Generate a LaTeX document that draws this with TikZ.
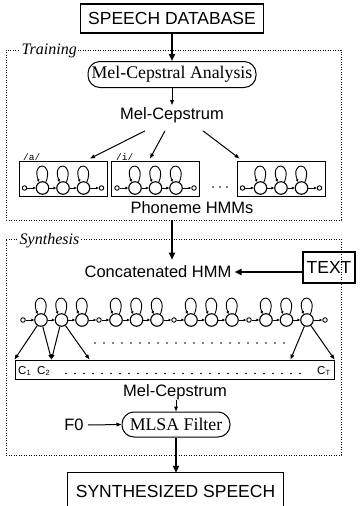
\documentclass[tikz,border=0pt]{standalone}
\usepackage{fontspec}
\setmainfont{Liberation Serif}
\setsansfont{Liberation Sans}
\setmonofont{Liberation Mono}
\usetikzlibrary{arrows.meta}
\newcommand\csub[1]{\raisebox{-1.8pt}{\fontsize{7.5}{8}\selectfont #1}}
\begin{document}
\begin{tikzpicture}[x=1pt,y=-1pt,
 lab/.style={font=\sffamily\fontsize{16.5}{18}\selectfont, inner sep=0pt},
 bigbox/.style={draw, line width=1.1pt, font=\sffamily\fontsize{17.5}{19}\selectfont, inner sep=0pt},
 pill/.style={draw, line width=1pt, rounded corners=12pt, font=\fontsize{17.8}{19}\selectfont, inner sep=0pt},
 frame/.style={draw, line width=0.8pt, dash pattern=on 0.8pt off 1.7pt, inner sep=0pt},
 framelab/.style={font=\itshape\fontsize{16}{18}\selectfont, fill=white, inner xsep=1.5pt, inner ysep=1pt, anchor=west},
 bigarrow/.style={line width=1.9pt, -{Triangle[length=7pt,width=6pt]}},
 smallarrow/.style={line width=1pt, -{Triangle[length=5pt,width=3.6pt]}},
 hstate/.style={circle, draw, line width=1.15pt, minimum size=12.5pt, inner sep=0pt},
 endst/.style={circle, draw, line width=0.9pt, minimum size=4.5pt, inner sep=0pt},
 tr/.style={line width=0.9pt, -{Triangle[length=2.8pt,width=2.4pt]}},
 hbox/.style={draw, line width=1pt, minimum width=88pt, minimum height=35pt, inner sep=0pt},
 phon/.style={font=\ttfamily\fontsize{9.5}{10}\selectfont, inner sep=0pt, anchor=south west},
 clab/.style={font=\sffamily\fontsize{11.5}{12}\selectfont, inner sep=0pt},
]
\useasboundingbox (0,0) rectangle (361,506);

% frames
\node[frame, minimum width=335pt, minimum height=170pt] (trainframe) at (173.5,135) {};
\node[frame, minimum width=335pt, minimum height=216pt] (synframe) at (173.5,347) {};
\node[framelab] (trainlab) at (20,51) {Training};
\node[framelab] (synlab) at (18,241) {Synthesis};

% top part
\node[bigbox, minimum width=183pt, minimum height=29pt] (sdb) at (172,18.5) {SPEECH DATABASE};
\node[pill, minimum width=168pt, minimum height=26pt] (mca) at (172,74.5) {Mel-Cepstral Analysis};
\draw[bigarrow] (sdb.south) -- (mca.north);
\node[lab] (mc1) at (172,115) {Mel-Cepstrum};
\draw[smallarrow] (mca.south) -- ([yshift=2pt]mc1.north -| mca.south);

% phoneme HMMs
\foreach \b/\cx in {1/63,2/155.5,3/281}{
  \node[hbox] (pb\b) at (\cx,178.5) {};
  \node[endst] (pb\b-e0) at ({\cx-38.5},188) {};
  \node[endst] (pb\b-e4) at ({\cx+38.5},188) {};
  \foreach \i in {1,2,3}{
    \node[hstate] (pb\b-s\i) at ({\cx+(\i-2)*20.5},188) {};
    \draw[tr] (pb\b-s\i.60) .. controls +(8,-21) and +(-8,-21) .. (pb\b-s\i.120);
  }
  \draw[tr] (pb\b-e0) -- (pb\b-s1);
  \draw[tr] (pb\b-s1) -- (pb\b-s2);
  \draw[tr] (pb\b-s2) -- (pb\b-s3);
  \draw[tr] (pb\b-s3) -- (pb\b-e4);
}
\node[phon] (pa) at (23,161) {/a/};
\node[phon] (pi) at (116,161) {/i/};
\foreach \x in {213,220,227} \fill (\x,187) circle[radius=0.8pt];
\draw[smallarrow] ([shift={(-27,8)}]mc1.south) -- ([shift={(27,-2)}]pb1.north);
\draw[smallarrow] ([shift={(-7,8)}]mc1.south) -- ([shift={(-5.5,-2)}]pb2.north);
\draw[smallarrow] ([shift={(31,8)}]mc1.south) -- ([shift={(3,-2)}]pb3.north west);
\node[lab] (phm) at (192,208) {Phoneme HMMs};

% synthesis
\node[lab] (concat) at (158,272) {Concatenated HMM};
\draw[bigarrow] (trainframe.south -| sdb.south) -- ([yshift=6pt]concat.north -| sdb.south);
\node[bigbox, minimum width=52pt, minimum height=31pt] (textbox) at (329,267.5) {TEXT};
\draw[bigarrow] (textbox.west |- concat.east) -- ([xshift=3pt]concat.east);

\foreach \g in {0,1,2,3}{
  \foreach \i in {1,2,3}{
    \node[hstate] (c\g-s\i) at ({41+75*\g+20.5*(\i-1)},320) {};
    \draw[tr] (c\g-s\i.60) .. controls +(8,-21) and +(-8,-21) .. (c\g-s\i.120);
  }
  \draw[tr] (c\g-s1) -- (c\g-s2);
  \draw[tr] (c\g-s2) -- (c\g-s3);
}
\foreach \k/\x in {0/23,1/99,2/174,3/249,4/325} \node[endst] (ce\k) at (\x,320) {};
\foreach \g [evaluate=\g as \h using int(\g+1)] in {0,1,2,3}{
  \draw[tr] (ce\g) -- (c\g-s1);
  \draw[tr] (c\g-s3) -- (ce\h);
}
\foreach \x in {95,104,...,285} \fill (\x,343) circle[radius=0.9pt];

\node[draw, line width=1pt, minimum width=319pt, minimum height=19pt, inner sep=0pt] (cbox) at (174.5,369.5) {};
\draw[smallarrow] (c0-s1) -- (cbox.north west);
\draw[smallarrow] (c0-s1) -- ([xshift=37pt]cbox.north west);
\draw[smallarrow] (c0-s2) -- ([xshift=37pt]cbox.north west);
\draw[smallarrow] (c0-s2) -- ([xshift=75pt]cbox.north west);
\draw[smallarrow] (c3-s3) -- ([xshift=-44pt]cbox.north east);
\draw[smallarrow] (c3-s3) -- (cbox.north east);
\node[clab, anchor=west] (cc1) at (18,371) {C\csub{1}};
\node[clab, anchor=west] (cc2) at (37,371) {C\csub{2}};
\node[clab, anchor=west] (cct) at (317,371) {C\csub{T}};
\foreach \x in {66,75,...,300} \fill (\x,373.5) circle[radius=0.8pt];

\node[lab] (mc2) at (175,392) {Mel-Cepstrum};
\node[pill, minimum width=108pt, minimum height=25pt] (mlsa) at (176,424.5) {MLSA Filter};
\draw[smallarrow] (mc2.south -| mlsa.north) -- (mlsa.north);
\node[lab] (f0) at (74,425) {F0};
\draw[smallarrow] ([xshift=4pt]f0.east) -- (mlsa.west);

\node[font=\sffamily\fontsize{17.5}{19}\selectfont, inner sep=0pt, minimum width=215pt, minimum height=36pt] (synth) at (175.5,491) {SYNTHESIZED SPEECH};
\draw[line width=1.1pt] ([yshift=3pt]synth.south west) -- (synth.north west) -- (synth.north east) -- ([yshift=3pt]synth.south east);
\draw[bigarrow] (mlsa.south) -- (synth.north -| mlsa.south);
\end{tikzpicture}
\end{document}
